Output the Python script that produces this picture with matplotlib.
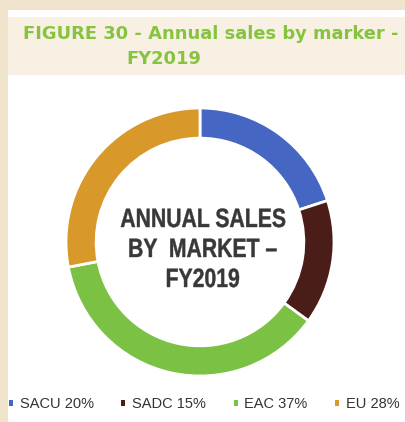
import matplotlib.pyplot as plt
from matplotlib.patches import Rectangle, PathPatch
from matplotlib.textpath import TextPath
from matplotlib.font_manager import FontProperties
from matplotlib.transforms import Affine2D, IdentityTransform

# data
markets = ['SACU', 'SADC', 'EAC', 'EU']
shares = [20, 15, 37, 28]
colors = ['#4566c2', '#4b1d19', '#7bc143', '#d8982a']

title1 = 'FIGURE 30 - Annual sales by marker -'
title2 = 'FY2019'
center_lines = ['ANNUAL SALES', 'BY  MARKET \u2013', 'FY2019']

W, H = 406, 422
fig = plt.figure(figsize=(W / 100, H / 100), dpi=100)
fig.patch.set_facecolor('white')

# beige frame (top and left) and title band
fig.add_artist(Rectangle((0, 1 - 10 / H), 1, 10 / H, transform=fig.transFigure,
                         facecolor='#f1e4cc', edgecolor='none'))
fig.add_artist(Rectangle((0, 0), 8 / W, 1, transform=fig.transFigure,
                         facecolor='#f1e4cc', edgecolor='none'))
fig.add_artist(Rectangle((8 / W, 1 - 75 / H), 1, 58 / H, transform=fig.transFigure,
                         facecolor='#f8f0e3', edgecolor='none'))

fig.text(211 / W, 1 - 34 / H, title1, ha='center', va='center', color='#86c440',
         fontsize=12.9, fontweight='bold', family='DejaVu Sans')
fig.text(164 / W, 1 - 59 / H, title2, ha='center', va='center', color='#86c440',
         fontsize=12.9, fontweight='bold', family='DejaVu Sans')

# donut
cx, cy, r = 200, 242, 134
ax = fig.add_axes([(cx - r) / W, (H - cy - r) / H, 2 * r / W, 2 * r / H])
wedges, _ = ax.pie(shares, colors=colors, startangle=90, counterclock=False,
                   radius=1, wedgeprops=dict(width=0.225, edgecolor='white', linewidth=2))
ax.set_xlim(-1, 1)
ax.set_ylim(-1, 1)
ax.set_aspect('equal')
ax.axis('off')

# condensed bold centre text (horizontally squeezed text paths, in pixels)
fp = FontProperties(family='Liberation Sans', weight='bold')
for i, line in enumerate(center_lines):
    tp = TextPath((0, 0), line, size=26.5, prop=fp)
    ext = tp.get_extents()
    baseline = H - (227 + 30 * i)
    tr = Affine2D().translate(-(ext.x0 + ext.x1) / 2, 0).scale(0.8, 1).translate(203, baseline)
    patch = PathPatch(tr.transform_path(tp), facecolor='#383838', edgecolor='#383838',
                      linewidth=0.3, transform=IdentityTransform())
    fig.add_artist(patch)

# legend with small square markers
handles = [Rectangle((0, 0), 1, 1, facecolor=c, edgecolor='none') for c in colors]
labels = [f'{m} {s}%' for m, s in zip(markets, shares)]
leg = fig.legend(handles, labels, loc='center left', bbox_to_anchor=(9 / W, 1 - 404 / H),
                 ncol=4, frameon=False, handlelength=0.28, handleheight=0.28,
                 handletextpad=0.45, columnspacing=1.9, borderaxespad=0, borderpad=0,
                 prop=dict(family='Liberation Sans', size=10.5))
for t in leg.get_texts():
    t.set_color('#333333')

fig.savefig('out.png', dpi=100)
